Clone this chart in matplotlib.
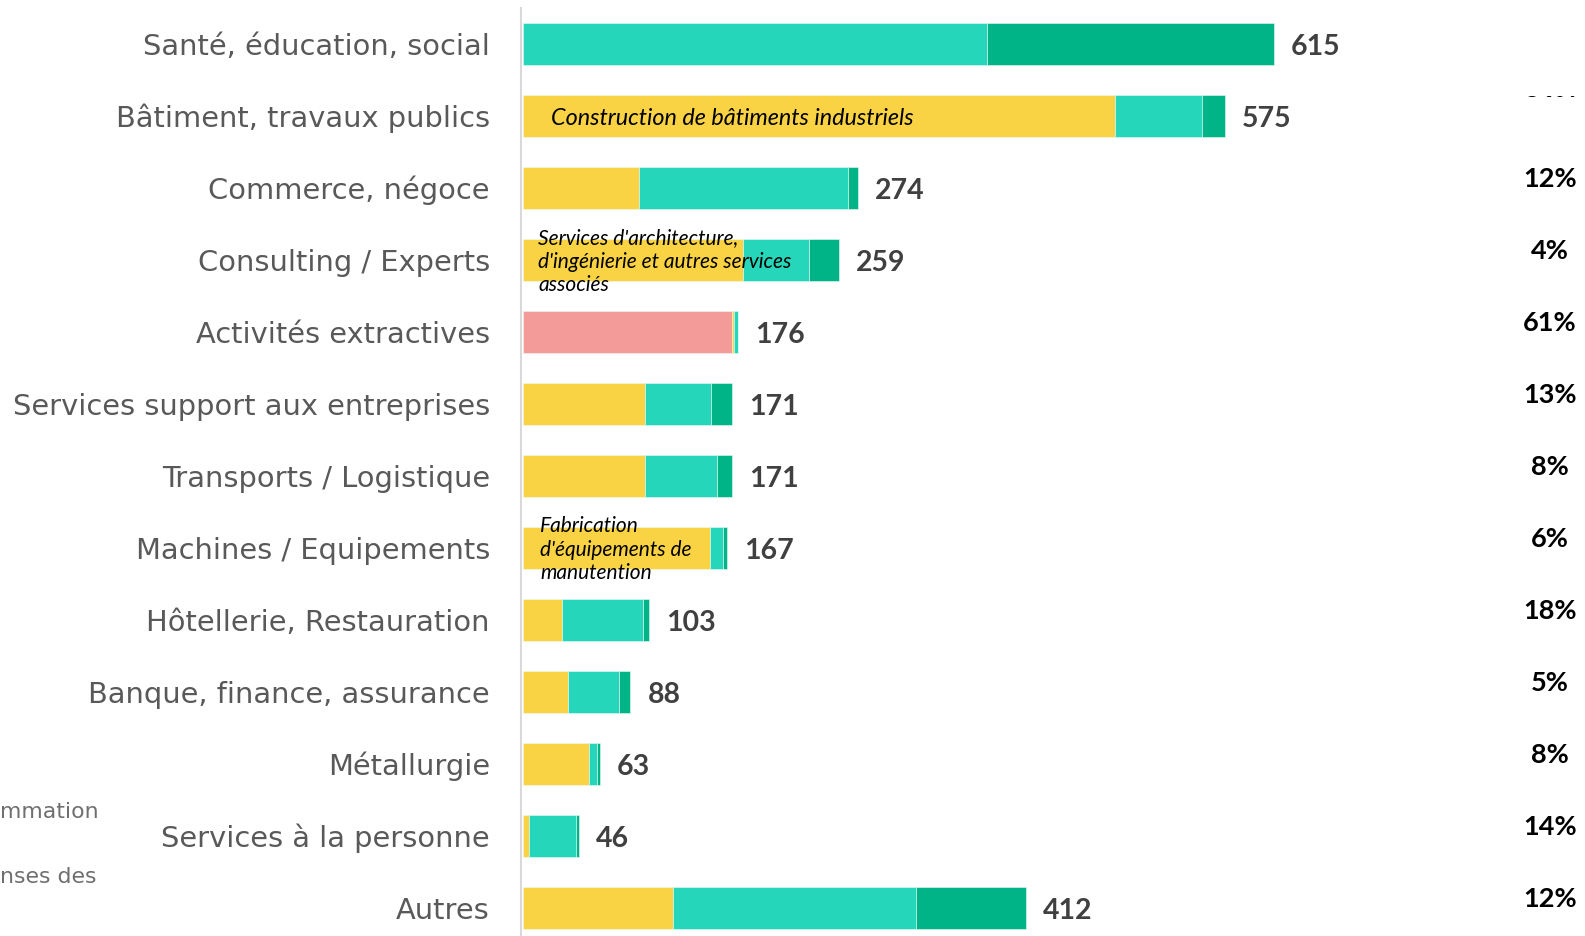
import matplotlib
matplotlib.use("Agg")
import matplotlib.pyplot as plt
from matplotlib.patches import Rectangle
import numpy as np

categories = [
    "Santé, éducation, social",
    "Bâtiment, travaux publics",
    "Commerce, négoce",
    "Consulting / Experts",
    "Activités extractives",
    "Services support aux entreprises",
    "Transports / Logistique",
    "Machines / Equipements",
    "Hôtellerie, Restauration",
    "Banque, finance, assurance",
    "Métallurgie",
    "Services à la personne",
    "Autres",
]
pink = [0, 0, 0, 0, 171, 0, 0, 0, 0, 0, 0, 0, 0]
yellow = [0, 485, 95, 180, 2, 100, 100, 153, 32, 37, 54, 5, 123]
turquoise = [380, 71, 171, 54, 3, 54, 59, 11, 66, 42, 7, 38, 199]
dark_green = [235, 19, 8, 25, 0, 17, 12, 3, 5, 9, 2, 3, 90]
totals = [615, 575, 274, 259, 176, 171, 171, 167, 103, 88, 63, 46, 412]
shares = ["", "36%", "12%", "4%", "61%", "13%", "8%", "6%", "18%", "5%", "8%", "14%", "12%"]

# sub-sector notes written inside the bars: (row, text)
notes = [
    (1, "Construction de bâtiments industriels"),
    (3, "Services d'architecture,\nd'ingénierie et autres services\nassociés"),
    (7, "Fabrication\nd'équipements de\nmanutention"),
]

W, H = 1585, 937
x0 = 523          # pixel where the bars start
px_per_unit = 1.221
row0, row_step = 44.8, 72.0   # centre of first row, spacing (pixels)

fig = plt.figure(figsize=(W / 100, H / 100), dpi=100)
top_px = 9
ax = fig.add_axes([x0 / W, 0, 1 - x0 / W, (H - top_px) / H])
ax.set_xlim(0, (W - x0) / px_per_unit)
ax.set_ylim((H - row0) / row_step, (top_px - row0) / row_step)

def py(p):
    # pixel offset -> y data units
    return p / row_step

def px(p):
    return p / px_per_unit

label_font = "DejaVu Sans"

y = np.arange(len(categories))
left = np.zeros(len(categories))
for vals, col in [(pink, "#F29B98"), (yellow, "#FAD344"),
                  (turquoise, "#25D6BA"), (dark_green, "#01B488")]:
    ax.barh(y, vals, left=left, height=0.59, color=col,
            edgecolor="#eafaf6", linewidth=0.4, zorder=3)
    left += np.array(vals)

for i, name in enumerate(categories):
    ax.text(px(490 - x0), i + py(10), name, ha="right", va="baseline",
            fontsize=20.8, color="#595959", family=label_font, clip_on=False)
    ax.text(totals[i] + px(17), i + py(10), str(totals[i]), ha="left",
            va="baseline", fontsize=20.5, fontweight="bold", color="#404040",
            family="Lato")
    if shares[i]:
        ax.text(px(1550 - x0), i + py(-2), shares[i], ha="center",
                va="baseline", fontsize=19.5, fontweight="bold", color="black",
                family="Lato", clip_on=False)

ax.text(px(551 - x0), 1 + py(8), notes[0][1], ha="left", va="baseline",
        fontsize=16.8, style="italic", color="black", family="Lato", zorder=5)
for row, txt in notes[1:]:
    xs = 538 if row == 3 else 540
    ax.text(px(xs - x0), row + py(1), txt, ha="left", va="center",
            fontsize=15, style="italic", color="black", family="Lato",
            linespacing=1.22, zorder=5)

# white band hiding most of the upper-right percentage
fig.patches.append(Rectangle((1500 / W, (H - 140) / H), 85 / W, 42.5 / H,
                             transform=fig.transFigure, facecolor="white",
                             edgecolor="none", zorder=10))

# fragments of text cut at the left edge
fig.text(0, 1 - 812 / H, "mmation", ha="left", va="center", fontsize=15.8,
         color="#6f6f6f", family=label_font)
fig.text(0, 1 - 877 / H, "nses des", ha="left", va="center", fontsize=15.8,
         color="#6f6f6f", family=label_font)

for s in ["top", "right", "bottom"]:
    ax.spines[s].set_visible(False)
ax.spines["left"].set_color("#d9d9d9")
ax.spines["left"].set_linewidth(1.5)
ax.spines["left"].set_position(("outward", 1.5))
ax.set_xticks([])
ax.set_yticks([])

fig.savefig("out.png", dpi=100)
